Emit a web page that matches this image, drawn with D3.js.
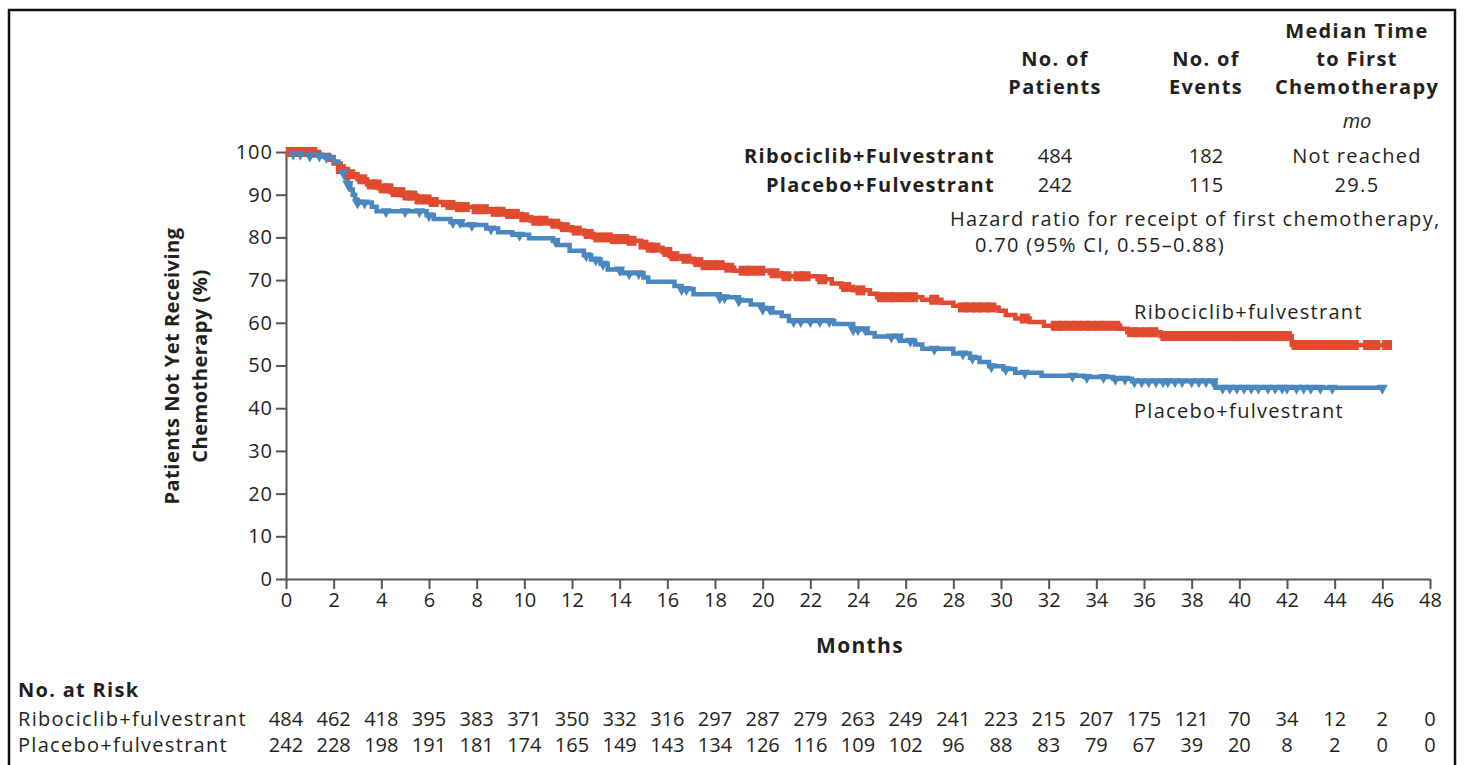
<!DOCTYPE html>
<html>
<head>
<meta charset="utf-8">
<script src="https://cdn.jsdelivr.net/npm/d3@7/dist/d3.min.js"></script>
<style>
  html, body { margin: 0; padding: 0; background: #fff; }
  svg { display: block; }
  text { font-family: "Open Sans", Lato, sans-serif; fill: #231f20; }
  .lbl { letter-spacing: 1.3px; }
</style>
</head>
<body>
<svg id="chart" width="1468" height="765"></svg>
<script>
// ---------- DATA ----------
const xTicks = d3.range(0, 49, 2);
const yTicks = d3.range(0, 101, 10);

// Kaplan-Meier steps: [month, percent] (value holds from month onward)
const riboSteps = [[0,100],[1.4,99.3],[1.8,98.2],[2.0,97.3],[2.3,96.0],[2.6,94.8],[3.0,93.6],[3.4,92.4],[3.9,91.5],[4.4,90.6],[4.9,89.8],[5.5,88.9],[6.0,88.3],[6.6,87.6],[7.2,87.1],[7.9,86.6],[8.6,86.0],[9.2,85.5],[9.9,84.7],[10.3,83.9],[11.1,83.2],[11.5,82.4],[12.0,81.6],[12.5,80.8],[12.9,80.0],[13.8,79.6],[14.5,79.2],[14.9,78.3],[15.3,77.6],[15.8,76.6],[16.1,75.6],[16.6,75.0],[17.1,74.2],[17.5,73.5],[18.4,72.9],[18.8,72.2],[20.3,71.6],[20.8,70.9],[22.3,70.2],[22.9,69.2],[23.3,68.4],[23.8,67.6],[24.5,66.8],[24.8,66.0],[26.7,65.4],[27.5,64.7],[28.0,64.0],[28.3,63.6],[29.9,62.8],[30.2,61.8],[30.6,61.0],[31.2,60.2],[31.8,59.3],[35.0,58.6],[35.3,57.8],[36.7,56.9],[42.2,54.8]];
const riboEnd = 46.2;
const riboCensor = [0.2,0.5,0.8,1.1,2.3,2.7,3.2,3.6,3.8,4.1,4.3,4.6,4.8,5.1,5.3,5.6,5.9,6.2,6.9,7.3,7.5,8.0,8.3,8.8,9.0,9.4,9.6,10.0,10.5,10.8,11.3,11.7,12.2,12.7,13.1,13.5,13.8,14.2,14.5,15.0,15.3,15.5,16.0,16.3,16.8,17.3,17.6,17.9,18.2,18.6,19.2,19.5,19.9,20.5,21.0,21.5,21.8,22.5,23.5,24.1,25.0,25.3,25.6,26.0,26.3,27.2,28.4,28.7,29.0,29.3,29.6,31.0,32.3,32.6,32.9,33.2,33.5,33.8,34.1,34.4,34.8,35.5,35.8,36.1,36.4,36.9,37.2,37.5,37.8,38.1,38.4,38.7,39.0,39.3,39.6,39.9,40.2,40.5,40.8,41.1,41.4,41.7,42.0,42.4,42.7,43.0,43.3,43.6,43.9,44.2,44.5,44.8,45.4,45.7,46.2];

const placSteps = [[0,100],[0.3,99.6],[1.0,99.2],[1.6,98.8],[2.0,97.8],[2.2,96.5],[2.4,95.2],[2.5,93.8],[2.6,92.5],[2.7,91.2],[2.8,90.0],[2.9,88.8],[3.0,88.2],[3.6,87.2],[3.8,86.1],[5.9,85.2],[6.2,84.3],[6.9,83.6],[7.4,82.9],[8.4,82.1],[8.9,81.2],[9.5,80.6],[10.2,79.8],[11.2,79.2],[11.4,78.2],[11.9,76.9],[12.5,75.8],[12.8,74.8],[13.2,73.8],[13.5,72.5],[14.1,71.6],[15.0,70.6],[15.2,69.6],[16.3,68.6],[16.6,67.9],[17.1,66.7],[18.2,66.0],[19.0,65.2],[19.5,64.3],[20.0,63.3],[20.4,62.4],[20.8,61.6],[21.1,60.4],[23.0,59.7],[23.8,58.5],[24.4,57.6],[24.7,56.8],[25.8,55.8],[26.4,54.9],[26.7,53.9],[28.0,52.8],[28.7,51.8],[29.1,50.8],[29.5,49.8],[30.1,49.2],[30.6,48.3],[31.7,47.6],[33.5,47.3],[34.7,46.9],[35.5,46.3],[39.0,44.8]];
const placEnd = 46.0;
const placCensor = [0.3,0.6,1.0,1.4,1.7,2.4,2.6,3.0,3.3,4.2,5.0,5.6,6.0,7.0,7.3,7.8,8.6,9.8,11.3,12.6,13.0,13.3,14.0,14.4,14.8,16.6,16.8,18.2,18.4,19.0,20.0,20.3,21.3,21.6,22.0,22.4,22.8,23.8,24.0,24.3,25.4,25.7,26.2,27.2,28.4,28.8,29.6,30.2,31.0,33.0,33.6,34.3,34.8,35.2,35.6,35.9,36.2,36.5,36.8,37.0,37.3,37.6,38.0,38.3,38.6,38.9,39.3,39.6,39.9,40.2,40.5,40.8,41.2,41.5,41.8,42.0,42.4,42.7,43.0,43.4,43.9,46.0];

const groups = ["Ribociclib+fulvestrant", "Placebo+fulvestrant"];
const tableGroups = ["Ribociclib+Fulvestrant", "Placebo+Fulvestrant"];
const nPatients = ["484", "242"];
const nEvents = ["182", "115"];
const medianTime = ["Not reached", "29.5"];
const riboAtRisk = [484,462,418,395,383,371,350,332,316,297,287,279,263,249,241,223,215,207,175,121,70,34,12,2,0];
const placAtRisk = [242,228,198,191,181,174,165,149,143,134,126,116,109,102,96,88,83,79,67,39,20,8,2,0,0];

const RED = "#e24a30";
const BLUE = "#4a87c0";
const FS = "20px";

// ---------- CHART ----------
const svg = d3.select("#chart");
svg.append("rect").attr("x", 9).attr("y", 10).attr("width", 1446).attr("height", 780)
  .attr("fill", "none").attr("stroke", "#111").attr("stroke-width", 2.5);

const x = d3.scaleLinear().domain([0, 48]).range([286, 1430]);
const y = d3.scaleLinear().domain([0, 100]).range([579, 152]);

// axes
const xAxis = d3.axisBottom(x).tickValues(xTicks).tickSize(10).tickPadding(4).tickSizeOuter(0);
const yAxis = d3.axisLeft(y).tickValues(yTicks).tickSize(10).tickPadding(3).tickSizeOuter(0);
const gx = svg.append("g").attr("transform", `translate(0,${y(0)})`).call(xAxis);
const gy = svg.append("g").attr("transform", `translate(${x(0)},0)`).call(yAxis);
[gx, gy].forEach(g => {
  g.selectAll("path.domain").attr("stroke", "#555").attr("stroke-width", 2);
  g.selectAll(".tick line").attr("stroke", "#555").attr("stroke-width", 2);
  g.selectAll(".tick text").style("font-family", "'Open Sans', sans-serif").style("font-size", FS).attr("fill", "#231f20");
});
gy.selectAll(".tick text").style("letter-spacing", "1px");

// step lines
function stepFn(steps) {
  const bis = d3.bisector(d => d[0]).right;
  return t => steps[Math.max(0, bis(steps, t) - 1)][1];
}
const line = d3.line().x(d => x(d[0])).y(d => y(d[1])).curve(d3.curveStepAfter);

function drawCurve(steps, end, color) {
  const pts = steps.concat([[end, steps[steps.length - 1][1]]]);
  svg.append("path").attr("d", line(pts)).attr("fill", "none")
    .attr("stroke", color).attr("stroke-width", 4.5);
}
drawCurve(riboSteps, riboEnd, RED);
drawCurve(placSteps, placEnd, BLUE);

const riboS = stepFn(riboSteps), placS = stepFn(placSteps);
svg.append("g").selectAll("rect").data(riboCensor).join("rect")
  .attr("x", d => x(d) - 5).attr("y", d => y(riboS(d)) - 5)
  .attr("width", 10).attr("height", 10).attr("fill", RED);
svg.append("g").selectAll("path").data(placCensor).join("path")
  .attr("d", d => {
    const cx = x(d), cy = y(placS(d));
    return `M${cx - 5.5},${cy - 3}L${cx + 5.5},${cy - 3}L${cx},${cy + 7}Z`;
  })
  .attr("fill", BLUE);

// axis titles
svg.append("text").attr("x", 860).attr("y", 653).attr("text-anchor", "middle").attr("class", "lbl")
  .style("font-size", "21px").style("font-weight", "bold").text("Months");
const yl = svg.append("g").attr("transform", "translate(0,366) rotate(-90)");
yl.append("text").attr("x", 0).attr("y", 179).attr("text-anchor", "middle").style("letter-spacing", "0.5px")
  .style("font-size", "20px").style("font-weight", "bold").text("Patients Not Yet Receiving");
yl.append("text").attr("x", 0).attr("y", 207).attr("text-anchor", "middle").style("letter-spacing", "0.5px")
  .style("font-size", "20px").style("font-weight", "bold").text("Chemotherapy (%)");

// curve labels
svg.append("text").attr("x", 1134).attr("y", 319).attr("class", "lbl").style("font-size", FS).text(groups[0]);
svg.append("text").attr("x", 1134).attr("y", 418).attr("class", "lbl").style("font-size", FS).text(groups[1]);

// header table
const colX = [1055, 1206, 1357];
const head = (lines, cx, baseY) => lines.forEach((t, i) =>
  svg.append("text").attr("x", cx).attr("y", baseY + i * 28).attr("text-anchor", "middle").attr("class", "lbl")
    .style("font-size", "20px").style("font-weight", "bold").text(t));
head(["No. of", "Patients"], colX[0], 66);
head(["No. of", "Events"], colX[1], 66);
head(["Median Time", "to First", "Chemotherapy"], colX[2], 38);
svg.append("text").attr("x", colX[2]).attr("y", 128).attr("text-anchor", "middle")
  .style("font-size", FS).style("font-style", "italic").text("mo");
const rowY = [163, 192];
tableGroups.forEach((g, i) => {
  svg.append("text").attr("x", 995).attr("y", rowY[i]).attr("text-anchor", "end").attr("class", "lbl")
    .style("font-size", "20px").style("font-weight", "bold").text(g);
  svg.append("text").attr("x", colX[0]).attr("y", rowY[i]).attr("text-anchor", "middle").style("font-size", FS).text(nPatients[i]);
  svg.append("text").attr("x", colX[1]).attr("y", rowY[i]).attr("text-anchor", "middle").style("font-size", FS).text(nEvents[i]);
  svg.append("text").attr("x", colX[2]).attr("y", rowY[i]).attr("text-anchor", "middle").attr("class", "lbl").style("font-size", FS).text(medianTime[i]);
});
svg.append("text").attr("x", 950).attr("y", 226).attr("class", "lbl").style("font-size", FS)
  .text("Hazard ratio for receipt of first chemotherapy,");
svg.append("text").attr("x", 975).attr("y", 252).attr("class", "lbl").style("font-size", FS)
  .text("0.70 (95% CI, 0.55\u20130.88)");

// at-risk table
svg.append("text").attr("x", 18).attr("y", 697).attr("class", "lbl").style("font-size", "20px").style("font-weight", "bold").text("No. at Risk");
[riboAtRisk, placAtRisk].forEach((arr, i) => {
  const yy = [726, 752][i];
  svg.append("text").attr("x", 18).attr("y", yy).attr("class", "lbl").style("font-size", FS).text(groups[i]);
  svg.append("g").selectAll("text").data(arr).join("text")
    .attr("x", (d, j) => x(xTicks[j])).attr("y", yy).attr("text-anchor", "middle")
    .style("font-size", FS).text(d => d);
});
</script>
</body>
</html>
